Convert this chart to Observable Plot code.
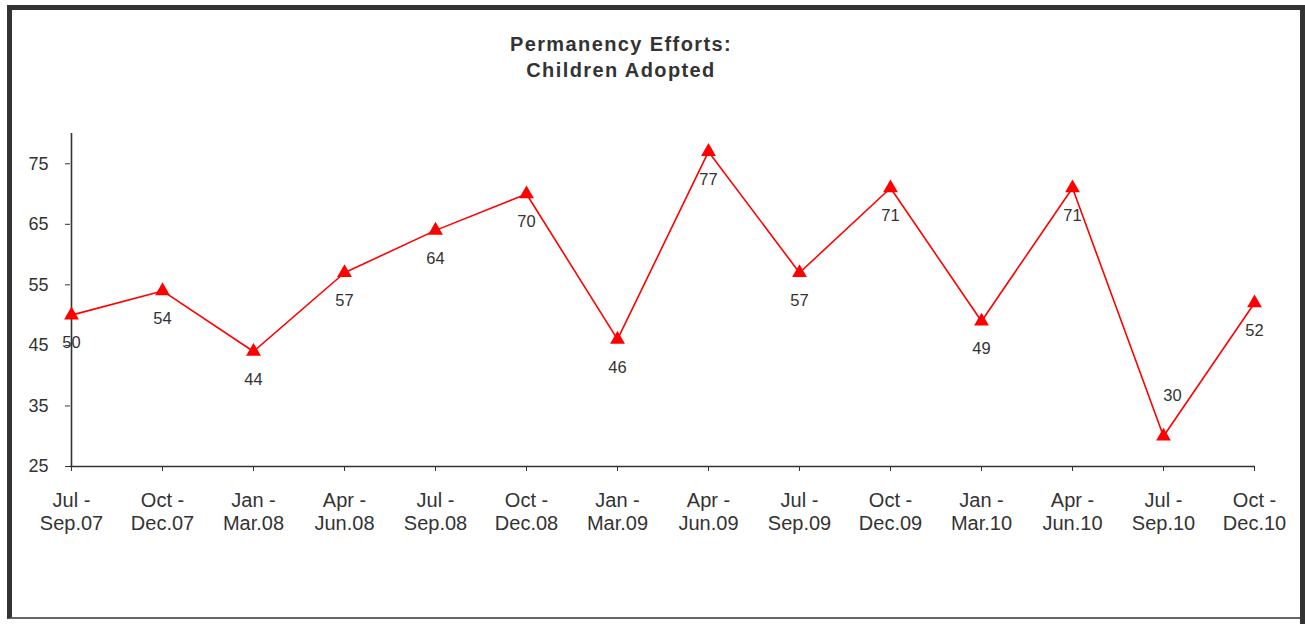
<!DOCTYPE html>
<html>
<head>
<meta charset="utf-8">
<script src="https://cdn.jsdelivr.net/npm/d3@7"></script>
<script src="https://cdn.jsdelivr.net/npm/@observablehq/plot@0.6"></script>
<style>
  body { margin: 0; background: #fff; font-family: "Liberation Sans", Arial, sans-serif; }
  #wrap { position: relative; width: 1305px; height: 624px; overflow: hidden; background: #fff; }
  #frame { position: absolute; left: 7px; top: 5px; width: 1305px; height: 614px; border-left: 5px solid #333; border-top: 5px solid #333; border-bottom: 2px solid #666; box-sizing: border-box; }
  #frameR { position: absolute; left: 1300px; top: 5px; width: 5px; height: 619px; background: #333; }
  #title { position: absolute; left: 0; width: 1242px; top: 31px; text-align: center; font-weight: bold; font-size: 20px; letter-spacing: 1.4px; line-height: 26px; color: #333; }
  #chart { position: absolute; left: 0; top: 0; }
</style>
</head>
<body>
<div id="wrap">
  <div id="frame"></div>
  <div id="frameR"></div>
  <div id="chart"></div>
  <div id="title">Permanency Efforts:<br>Children Adopted</div>
</div>
<script>
const periods = ["Jul -\nSep.07", "Oct -\nDec.07", "Jan -\nMar.08", "Apr -\nJun.08", "Jul -\nSep.08", "Oct -\nDec.08", "Jan -\nMar.09", "Apr -\nJun.09", "Jul -\nSep.09", "Oct -\nDec.09", "Jan -\nMar.10", "Apr -\nJun.10", "Jul -\nSep.10", "Oct -\nDec.10"];
const adopted = [50, 54, 44, 57, 64, 70, 46, 77, 57, 71, 49, 71, 30, 52];
const yTicks = [25, 35, 45, 55, 65, 75];

const data = periods.map((p, i) => ({period: p, value: adopted[i]}));
const low = data.filter(d => d.value < 35);
const rest = data.filter(d => d.value >= 35);

const chart = Plot.plot({
  width: 1305,
  height: 624,
  marginLeft: 70,
  marginRight: 50,
  marginTop: 133,
  marginBottom: 158,
  style: {fontFamily: "'Liberation Sans', Arial, sans-serif", background: "transparent"},
  x: {type: "point", domain: periods, padding: 0},
  y: {domain: [25, 80]},
  marks: [
    Plot.ruleX([periods[0]], {stroke: "#333", strokeWidth: 1.6, y1: 25, y2: 80}),
    Plot.ruleY([25], {stroke: "#333", strokeWidth: 1.6}),
    Plot.axisY({ticks: yTicks, tickSize: 5, tickPadding: 17, fontSize: 18, color: "#333", stroke: "#333", label: null}),
    Plot.axisX({tickSize: 5, tickPadding: 19, fontSize: 20, color: "#333", stroke: "#333", lineAnchor: "top", lineHeight: 1.15, label: null}),
    Plot.line(data, {x: "period", y: "value", stroke: "#ff0000", strokeWidth: 1.6}),
    Plot.dot(data, {x: "period", y: "value", symbol: "triangle", r: 5.5, fill: "#ff0000", stroke: "none"}),
    Plot.text(rest, {x: "period", y: "value", text: "value", dy: 28, fontSize: 16.5, fill: "#333"}),
    Plot.text(low, {x: "period", y: "value", text: "value", dy: -41, dx: 9, fontSize: 16.5, fill: "#333"})
  ]
});
document.getElementById("chart").appendChild(chart);
</script>
</body>
</html>
